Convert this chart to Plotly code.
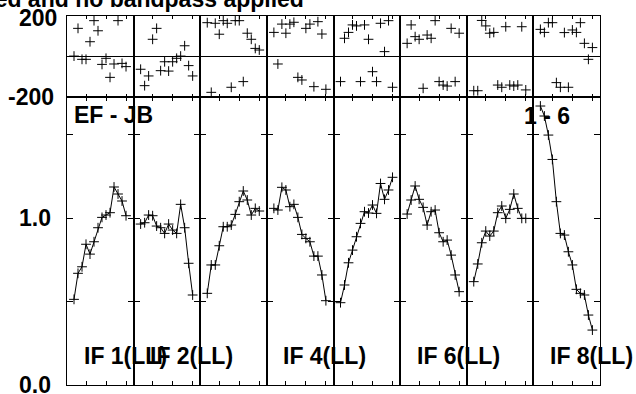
import plotly.graph_objects as go
from plotly.subplots import make_subplots

channels = list(range(2, 16))

phase_if1 = [2, 139, -14, -14, 73, 177, 127, -39, -9, -103, -37, 177, -34, -50]
phase_if2 = [-63, -144, -96, 85, 139, -70, -26, -72, -26, -9, 2, 53, -45, -96]
phase_if3 = [167, -177, 164, 110, 177, 164, -152, 177, 177, -124, 115, 85, 40, 32]
phase_if4 = [119, -37, 160, 115, 160, 169, -103, -116, 139, 160, -149, 172, 111, -162]
phase_if5 = [-124, 90, 119, 156, 151, -124, 156, 85, -75, -124, 164, 24, 177, -152]
phase_if6 = [65, 156, 98, 85, -157, 106, 90, 177, -124, -141, -146, 139, -124, 115]
phase_if7 = [-169, -169, 178, 151, 115, 119, -141, -152, 147, -141, -146, -141, 147, -165]
phase_if8 = [134, 119, 167, 167, -129, -152, 118, -152, 131, 119, 167, 65, -14, 44]

amp_if1 = [0.513, 0.669, 0.708, 0.843, 0.784, 0.858, 0.942, 1.004, 1.018, 1.032, 1.186, 1.144, 1.102, 1.014]
amp_if2 = [0.964, 0.972, 1.018, 1.014, 0.952, 0.942, 0.908, 0.964, 0.928, 0.908, 1.082, 0.942, 0.729, 0.539]
amp_if3 = [0.549, 0.719, 0.719, 0.834, 0.948, 0.948, 0.958, 1.022, 1.098, 1.162, 1.108, 1.018, 1.058, 1.042]
amp_if4 = [1.058, 1.048, 1.184, 1.168, 1.068, 1.082, 1.004, 0.902, 0.878, 0.858, 0.772, 0.772, 0.659, 0.505]
amp_if5 = [0.493, 0.599, 0.732, 0.808, 0.888, 0.968, 1.038, 1.030, 1.078, 1.028, 1.207, 1.112, 1.168, 1.244]
amp_if6 = [1.024, 1.108, 1.192, 1.112, 1.064, 0.958, 1.038, 1.048, 0.912, 0.858, 0.868, 0.778, 0.659, 0.559]
amp_if7 = [0.619, 0.725, 0.852, 0.922, 0.892, 0.922, 1.032, 1.072, 0.998, 1.052, 1.144, 1.058, 0.998, 0.998]
amp_if8 = [1.671, 1.611, 1.497, 1.351, 1.098, 0.908, 0.898, 0.798, 0.719, 0.573, 0.549, 0.539, 0.419, 0.329]

phases = [phase_if1, phase_if2, phase_if3, phase_if4, phase_if5, phase_if6, phase_if7, phase_if8]
amps = [amp_if1, amp_if2, amp_if3, amp_if4, amp_if5, amp_if6, amp_if7, amp_if8]

if_labels = ["IF 1(LL)", "IF 2(LL)", "", "IF 4(LL)", "", "IF 6(LL)", "", "IF 8(LL)"]
phase_ticks = [200, -200]
phase_tick_text = ["200", "-200"]
amp_ticks = [1.0, 0.0]
amp_tick_text = ["1.0", "0.0"]
baseline_label = "EF - JB"
source_label = "1 - 6"
title_text = "Calibrated and no bandpass applied"

W, H = 636, 394
ML, MR, MT, MB = 67, 36, 16, 9
PW, PH = W - ML - MR, H - MT - MB

FONT = dict(family="Liberation Sans, Arial, sans-serif", size=23, color="black", weight="bold")

fig = make_subplots(rows=2, cols=8, row_heights=[81, 288],
                    horizontal_spacing=0, vertical_spacing=0)

marker = dict(symbol="cross-thin", size=7, line=dict(width=1, color="black"), color="black")

for i in range(8):
    fig.add_trace(go.Scatter(x=channels, y=phases[i], mode="markers", marker=marker,
                             showlegend=False, hoverinfo="skip"), row=1, col=i + 1)
    fig.add_trace(go.Scatter(x=channels, y=amps[i], mode="lines+markers", marker=marker,
                             line=dict(color="black", width=1),
                             showlegend=False, hoverinfo="skip"), row=2, col=i + 1)

for i in range(8):
    fig.update_xaxes(row=1, col=i + 1, range=[0.25, 16.9], tickvals=[5, 10, 15],
                     ticks="inside", ticklen=3, tickcolor="black", mirror="ticks",
                     showline=True, linecolor="black", linewidth=1,
                     showticklabels=False, showgrid=False, zeroline=False)
    fig.update_yaxes(row=1, col=i + 1, range=[-200, 200], showticklabels=False,
                     ticks="", showline=True, linecolor="black", linewidth=1, mirror=True,
                     showgrid=False, zeroline=True, zerolinecolor="black", zerolinewidth=1)
    fig.update_xaxes(row=2, col=i + 1, range=[0.25, 16.9], tickvals=[5, 10, 15],
                     ticks="inside", ticklen=4, tickcolor="black", mirror="ticks",
                     showline=True, linecolor="black", linewidth=1,
                     showticklabels=False, showgrid=False, zeroline=False)
    fig.update_yaxes(row=2, col=i + 1, range=[0, 1.725], tickvals=[0.5, 1.0, 1.5],
                     ticks="inside", ticklen=6, tickcolor="black", mirror="ticks",
                     showline=True, linecolor="black", linewidth=1,
                     showticklabels=False, showgrid=False, zeroline=False)

ann = []
for v, t, sh in zip(phase_ticks, phase_tick_text, [-8, -11]):
    ann.append(dict(xref="paper", x=0, xshift=sh, xanchor="right", yref="y", y=v,
                    yshift=-2 if v > 0 else 0, yanchor="middle", text=t, showarrow=False, font=FONT))
for v, t in zip(amp_ticks, amp_tick_text):
    ann.append(dict(xref="paper", x=0, xshift=-14, xanchor="right", yref="y9", y=v,
                    yanchor="middle", text=t, showarrow=False, font=FONT))

ann.append(dict(xref="x9 domain", x=0, xshift=5, xanchor="left",
                yref="paper", y=(H - MB - 115.3) / PH, yanchor="middle",
                text=baseline_label, showarrow=False, font=FONT))
ann.append(dict(xref="x16 domain", x=1, xshift=-28, xanchor="right",
                yref="paper", y=(H - MB - 116) / PH, yanchor="middle",
                text=source_label, showarrow=False, font=FONT))
for i, lab in enumerate(if_labels):
    if lab:
        ann.append(dict(xref=f"x{i + 9} domain", x=0, xshift=14.5, xanchor="left",
                        yref="paper", y=(H - MB - 355.7) / PH, yanchor="middle",
                        text=lab, showarrow=False, font=FONT))
ann.append(dict(xref="paper", x=(306 - ML) / PW, xanchor="right",
                yref="paper", y=(H - MB + 1.2) / PH, yanchor="middle",
                text=title_text, showarrow=False, font=FONT))

fig.update_layout(width=W, height=H, margin=dict(l=ML, r=MR, t=MT, b=MB),
                  paper_bgcolor="white", plot_bgcolor="white",
                  annotations=ann, showlegend=False)

fig.write_html("out.html", config={"displayModeBar": False},
               post_script="document.body.style.margin='0';document.body.style.overflow='hidden';")
